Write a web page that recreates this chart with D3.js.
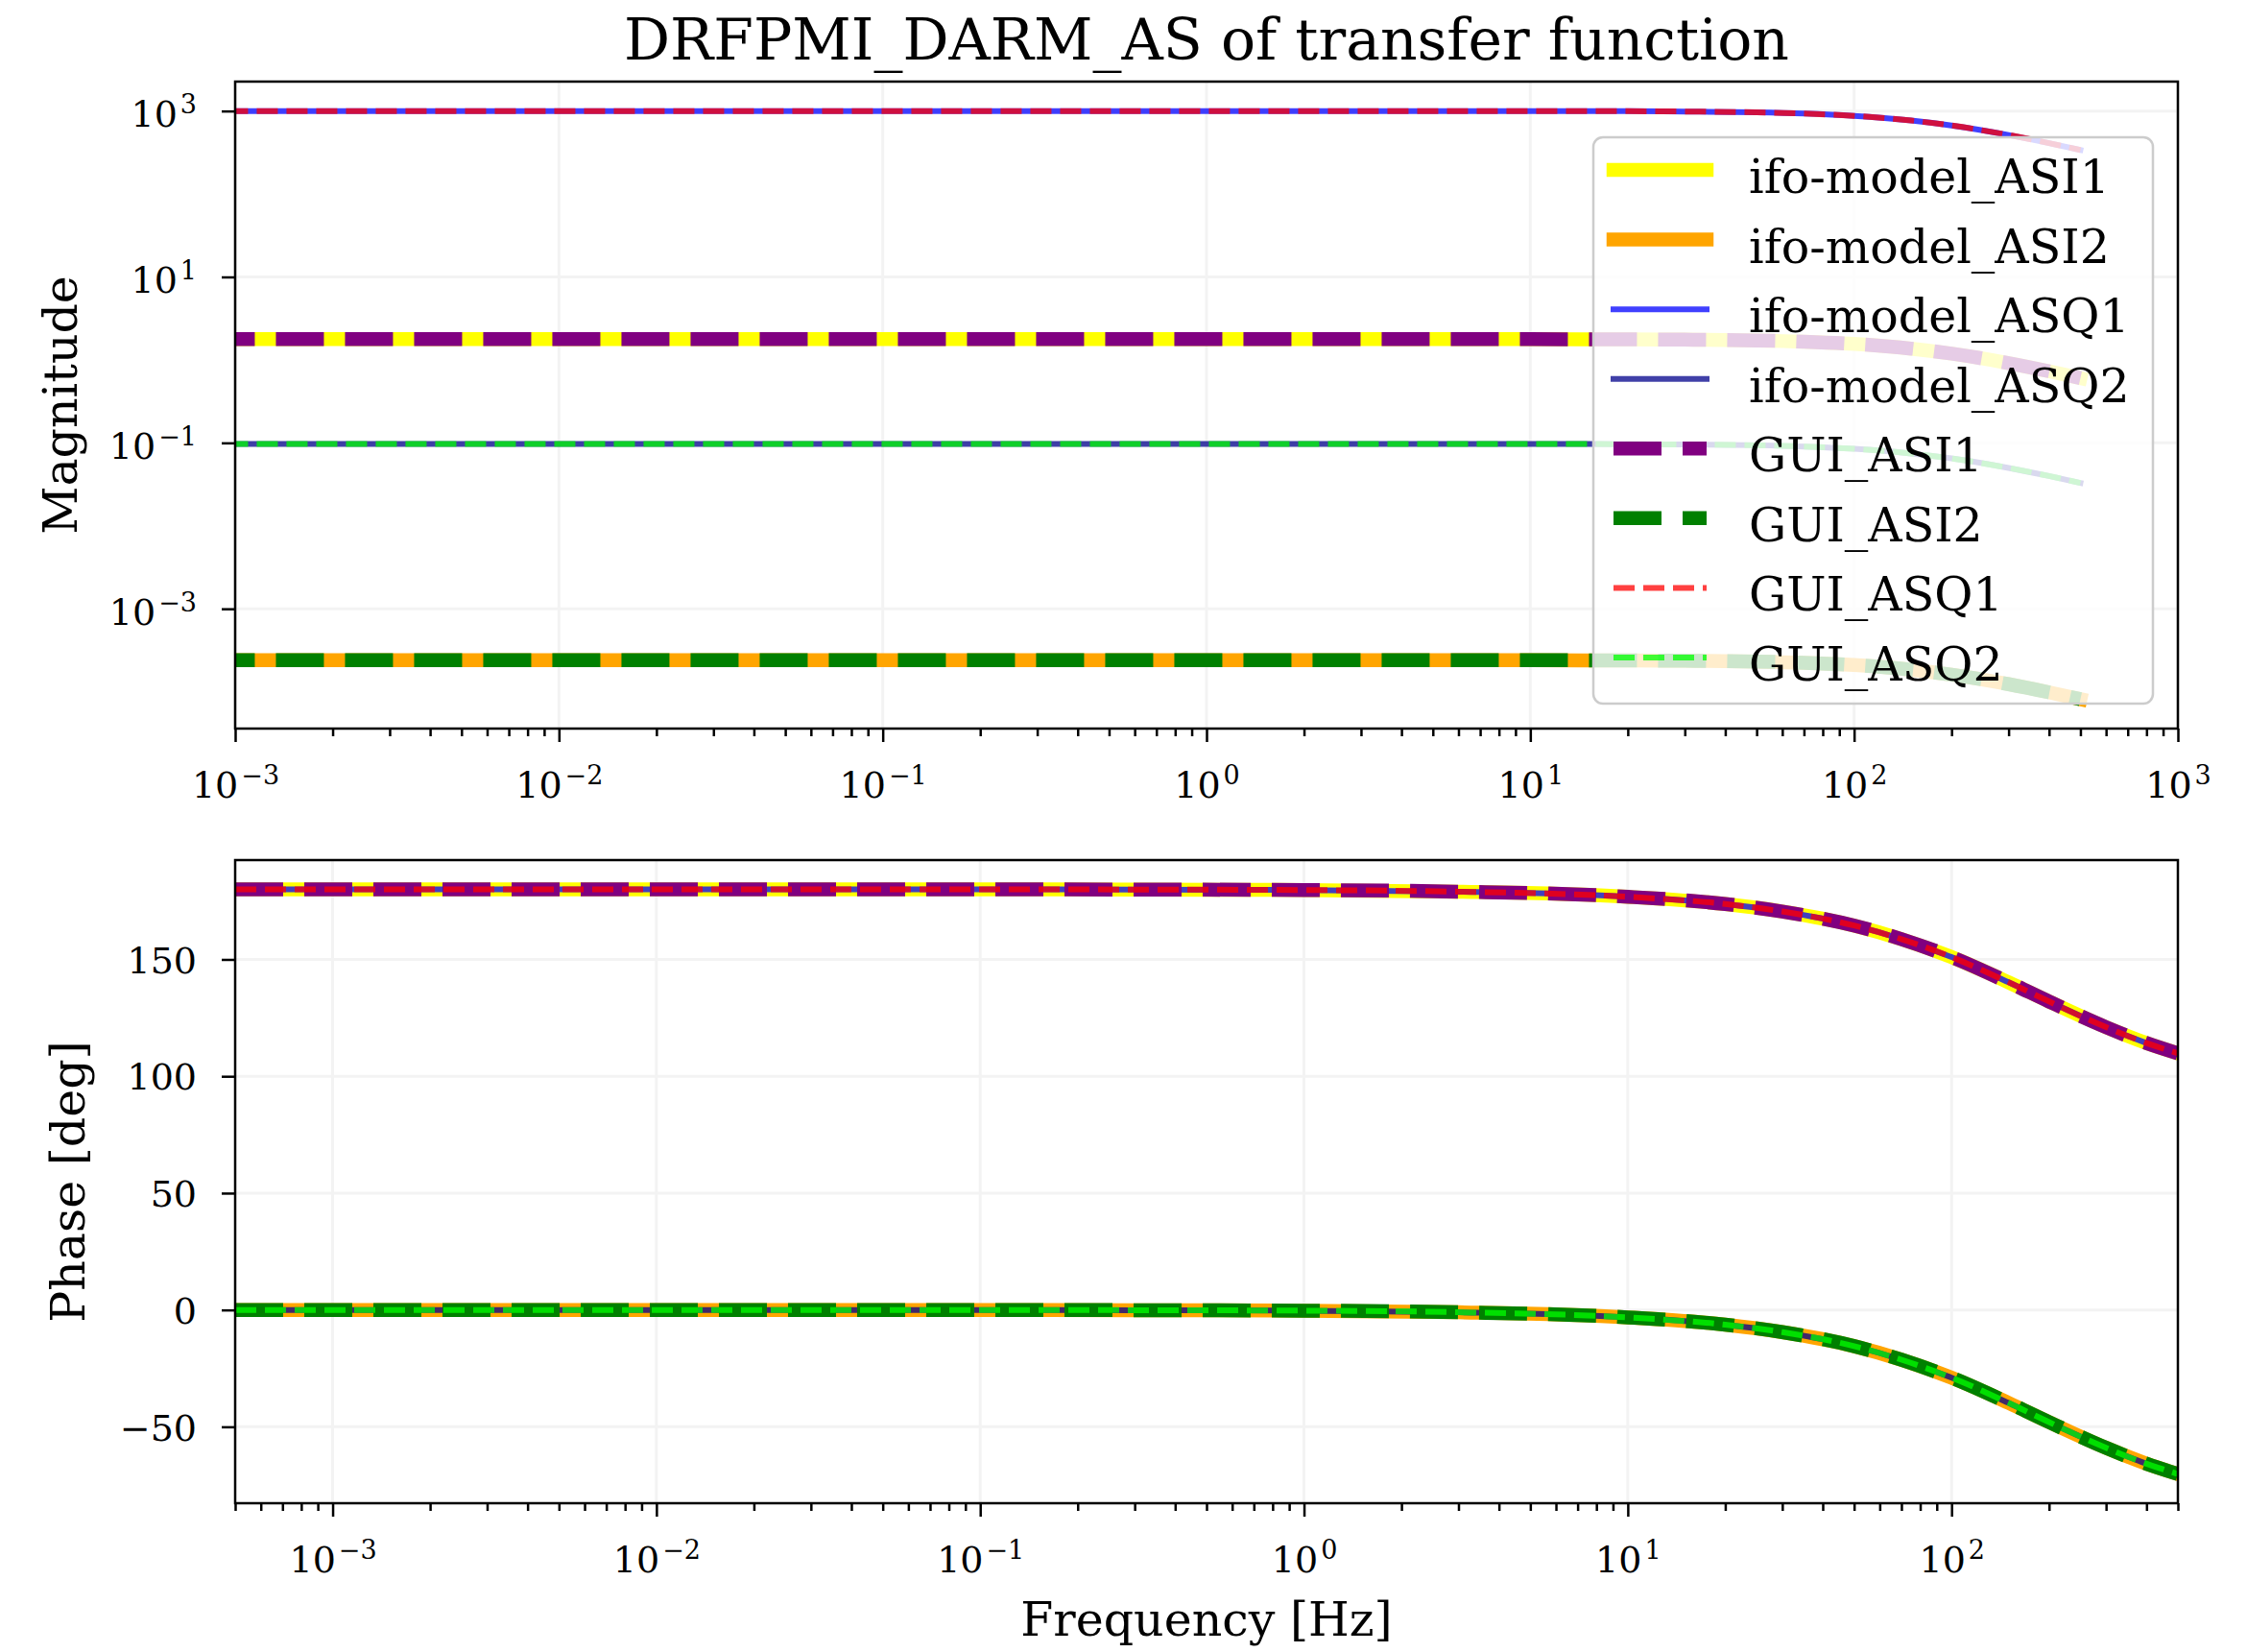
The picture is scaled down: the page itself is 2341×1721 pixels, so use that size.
<!DOCTYPE html>
<html>
<head>
<meta charset="utf-8">
<script src="https://cdn.jsdelivr.net/npm/d3@7"></script>
<style>
  body { margin: 0; background: #fff; }
  text { font-family: "DejaVu Serif", serif; fill: #000; }
</style>
</head>
<body>
<div id="chart"></div>
<script>
const freq = [0.0005, 0.001, 0.003, 0.01, 0.03, 0.1, 0.3, 1, 3, 10, 20, 30, 50, 70, 100, 150, 200, 300, 400, 500];

// magnitude (same for ifo-model and GUI, the curves sit on top of each other)
const magASI1 = [1.78, 1.78, 1.78, 1.78, 1.78, 1.78, 1.78, 1.78, 1.78, 1.777, 1.769, 1.755, 1.716, 1.659, 1.556, 1.367, 1.191, 0.915, 0.730, 0.603];
const magASI2 = [2.4e-4, 2.4e-4, 2.4e-4, 2.4e-4, 2.4e-4, 2.4e-4, 2.4e-4, 2.4e-4, 2.4e-4, 2.396e-4, 2.386e-4, 2.366e-4, 2.314e-4, 2.237e-4, 2.098e-4, 1.843e-4, 1.606e-4, 1.234e-4, 9.84e-5, 8.14e-5];
const magASQ1 = [1000, 1000, 1000, 1000, 1000, 1000, 1000, 1000, 999.9, 998.5, 994, 986, 964, 932, 874, 768, 669, 514, 410, 339];
const magASQ2 = [0.097, 0.097, 0.097, 0.097, 0.097, 0.097, 0.097, 0.097, 0.097, 0.0969, 0.0964, 0.0956, 0.0935, 0.0904, 0.0848, 0.0745, 0.0649, 0.0499, 0.0398, 0.0329];

// phase [deg]
const phaseASI1 = [180, 180, 180, 180, 180, 180, 179.9, 179.7, 179.0, 176.8, 173.7, 170.5, 164.5, 158.7, 151.0, 140.2, 132.0, 121.0, 114.2, 109.8];
const phaseASQ1 = phaseASI1;
const phaseASI2 = [0, 0, 0, 0, 0, 0, -0.1, -0.3, -1.0, -3.2, -6.3, -9.5, -15.5, -21.3, -29.0, -39.8, -48.0, -59.0, -65.8, -70.2];
const phaseASQ2 = phaseASI2;

const names = ["ifo-model_ASI1", "ifo-model_ASI2", "ifo-model_ASQ1", "ifo-model_ASQ2",
               "GUI_ASI1", "GUI_ASI2", "GUI_ASQ1", "GUI_ASQ2"];
const magData = [magASI1, magASI2, magASQ1, magASQ2, magASI1, magASI2, magASQ1, magASQ2];
const phaseData = [phaseASI1, phaseASI2, phaseASQ1, phaseASQ2, phaseASI1, phaseASI2, phaseASQ1, phaseASQ2];

// tick values
const magTicks = [1e3, 1e1, 1e-1, 1e-3];
const topFreqTicks = [1e-3, 1e-2, 1e-1, 1e0, 1e1, 1e2, 1e3];
const botFreqTicks = [1e-3, 1e-2, 1e-1, 1e0, 1e1, 1e2];
const phaseTicks = [-50, 0, 50, 100, 150];

// line styles, same order as names
var styles = [
  {color: "#ffff00", width: 14.5, dash: null, opacity: 1},
  {color: "#ffa500", width: 14.5, dash: null, opacity: 1},
  {color: "blue", width: 6, dash: null, opacity: 0.75},
  {color: "darkblue", width: 6, dash: null, opacity: 0.75},
  {color: "purple", width: 14.5, dash: "50,22", opacity: 1},
  {color: "green", width: 14.5, dash: "50,22", opacity: 1},
  {color: "red", width: 6, dash: "22,9", opacity: 0.75},
  {color: "lime", width: 6, dash: "22,9", opacity: 0.75}
];

var W = 2341, H = 1721;
var left = 245, right = 2269;
var top1 = 85, bot1 = 759, top2 = 896, bot2 = 1566;

var svg = d3.select("#chart").append("svg")
  .attr("width", W)
  .attr("height", H);

// minor ticks for log axes between lo and hi
function minorTicks(lo, hi) {
  var out = [];
  for (var e = -5; e <= 4; e++) {
    for (var k = 2; k <= 9; k++) {
      var v = k * Math.pow(10, e);
      if (v >= lo * 0.9999 && v <= hi * 1.0001) out.push(v);
    }
  }
  return out;
}

function logLabel(sel) {
  sel.each(function(d) {
    var e = Math.round(Math.log10(d));
    var t = d3.select(this);
    t.text(null);
    t.append("tspan").text("10");
    t.append("tspan").attr("dx", 3).attr("dy", -14).attr("font-size", 27).text(String(e).replace("-", "\u2212"));
  });
}

function styleAxis(g) {
  g.select(".domain").remove();
  g.selectAll(".tick line").attr("stroke", "#000").attr("stroke-width", 2.5);
  g.selectAll(".tick text").attr("font-size", 38).attr("font-family", "DejaVu Serif");
}

// magnitude / phase y-range like matplotlib (5% margins)
var lmin = Math.log10(d3.min(magData, a => d3.min(a)));
var lmax = Math.log10(d3.max(magData, a => d3.max(a)));
var lpad = (lmax - lmin) * 0.05;
var pmin = d3.min(phaseData, a => d3.min(a));
var pmax = d3.max(phaseData, a => d3.max(a));
var ppad = (pmax - pmin) * 0.05;

var panels = [
  {
    x: d3.scaleLog().domain([1e-3, 1e3]).range([left, right]),
    y: d3.scaleLog().domain([Math.pow(10, lmin - lpad), Math.pow(10, lmax + lpad)]).range([bot1, top1]),
    top: top1, bot: bot1, data: magData, xt: topFreqTicks, yt: magTicks, ylog: true
  },
  {
    x: d3.scaleLog().domain([freq[0], freq[freq.length - 1]]).range([left, right]),
    y: d3.scaleLinear().domain([pmin - ppad, pmax + ppad]).range([bot2, top2]),
    top: top2, bot: bot2, data: phaseData, xt: botFreqTicks, yt: phaseTicks, ylog: false
  }
];

panels.forEach(function(p, pi) {
  var g = svg.append("g");

  // grid
  g.selectAll(".vg").data(p.xt).enter().append("line")
    .attr("x1", d => p.x(d)).attr("x2", d => p.x(d))
    .attr("y1", p.top).attr("y2", p.bot)
    .attr("stroke", "#f3f3f3").attr("stroke-width", 3);
  g.selectAll(".hg").data(p.yt).enter().append("line")
    .attr("x1", left).attr("x2", right)
    .attr("y1", d => p.y(d)).attr("y2", d => p.y(d))
    .attr("stroke", "#f3f3f3").attr("stroke-width", 3);

  // clip
  svg.append("clipPath").attr("id", "clip" + pi)
    .append("rect").attr("x", left).attr("y", p.top)
    .attr("width", right - left).attr("height", p.bot - p.top);

  var line = d3.line()
    .x(d => p.x(d[0]))
    .y(d => p.y(d[1]))
    .curve(d3.curveMonotoneX);

  var lg = g.append("g").attr("clip-path", "url(#clip" + pi + ")");
  p.data.forEach(function(vals, i) {
    var s = styles[i];
    lg.append("path")
      .datum(freq.map((f, j) => [f, vals[j]]))
      .attr("d", line)
      .attr("fill", "none")
      .attr("stroke", s.color)
      .attr("stroke-opacity", s.opacity)
      .attr("stroke-width", s.width)
      .attr("stroke-dasharray", s.dash)
      .attr("stroke-linecap", s.dash ? "butt" : "square");
  });

  // x axis, major + minor
  var xMinor = g.append("g").attr("transform", "translate(0," + p.bot + ")")
    .call(d3.axisBottom(p.x).tickValues(minorTicks(p.x.domain()[0], p.x.domain()[1])).tickSize(8).tickFormat(""));
  styleAxis(xMinor);
  var xMajor = g.append("g").attr("transform", "translate(0," + p.bot + ")")
    .call(d3.axisBottom(p.x).tickValues(p.xt).tickSize(14));
  styleAxis(xMajor);
  xMajor.selectAll(".tick text").attr("y", 72).attr("dy", null).call(logLabel);

  // y axis
  var yAx = g.append("g").attr("transform", "translate(" + left + ",0)")
    .call(d3.axisLeft(p.y).tickValues(p.yt).tickSize(14).tickPadding(26));
  styleAxis(yAx);
  if (p.ylog) {
    yAx.selectAll(".tick text").attr("dy", "0.42em").call(logLabel);
  } else {
    yAx.selectAll(".tick text").attr("dy", "0.36em").text(d => String(d).replace("-", "\u2212"));
  }

  // spines
  g.append("rect")
    .attr("x", left).attr("y", p.top)
    .attr("width", right - left).attr("height", p.bot - p.top)
    .attr("fill", "none").attr("stroke", "#000").attr("stroke-width", 2.5);
});

// legend on the magnitude panel
var leg = svg.append("g");
leg.append("rect")
  .attr("x", 1660).attr("y", 143)
  .attr("width", 583).attr("height", 590)
  .attr("rx", 10).attr("ry", 10)
  .attr("fill", "#fff").attr("fill-opacity", 0.8)
  .attr("stroke", "#cccccc").attr("stroke-width", 2.5);

var rowY = d3.scaleLinear().domain([0, names.length - 1]).range([177, 685]);
names.forEach(function(n, i) {
  var s = styles[i];
  leg.append("line")
    .attr("x1", 1681).attr("x2", 1778)
    .attr("y1", rowY(i)).attr("y2", rowY(i))
    .attr("stroke", s.color)
    .attr("stroke-opacity", s.opacity)
    .attr("stroke-width", s.width)
    .attr("stroke-dasharray", s.dash)
    .attr("stroke-linecap", s.dash ? "butt" : "square");
  leg.append("text")
    .attr("x", 1822).attr("y", rowY(i) + 24)
    .attr("font-size", 49)
    .text(n);
});

// titles
svg.append("text")
  .attr("x", (left + right) / 2).attr("y", 62)
  .attr("text-anchor", "middle").attr("font-size", 60)
  .text("DRFPMI_DARM_AS of transfer function");

svg.append("text")
  .attr("x", (left + right) / 2).attr("y", 1704)
  .attr("text-anchor", "middle").attr("font-size", 49)
  .text("Frequency [Hz]");

svg.append("text")
  .attr("transform", "translate(80," + (top1 + bot1) / 2 + ") rotate(-90)")
  .attr("text-anchor", "middle").attr("font-size", 49)
  .text("Magnitude");

svg.append("text")
  .attr("transform", "translate(88," + (top2 + bot2) / 2 + ") rotate(-90)")
  .attr("text-anchor", "middle").attr("font-size", 49)
  .text("Phase [deg]");
</script>
</body>
</html>
